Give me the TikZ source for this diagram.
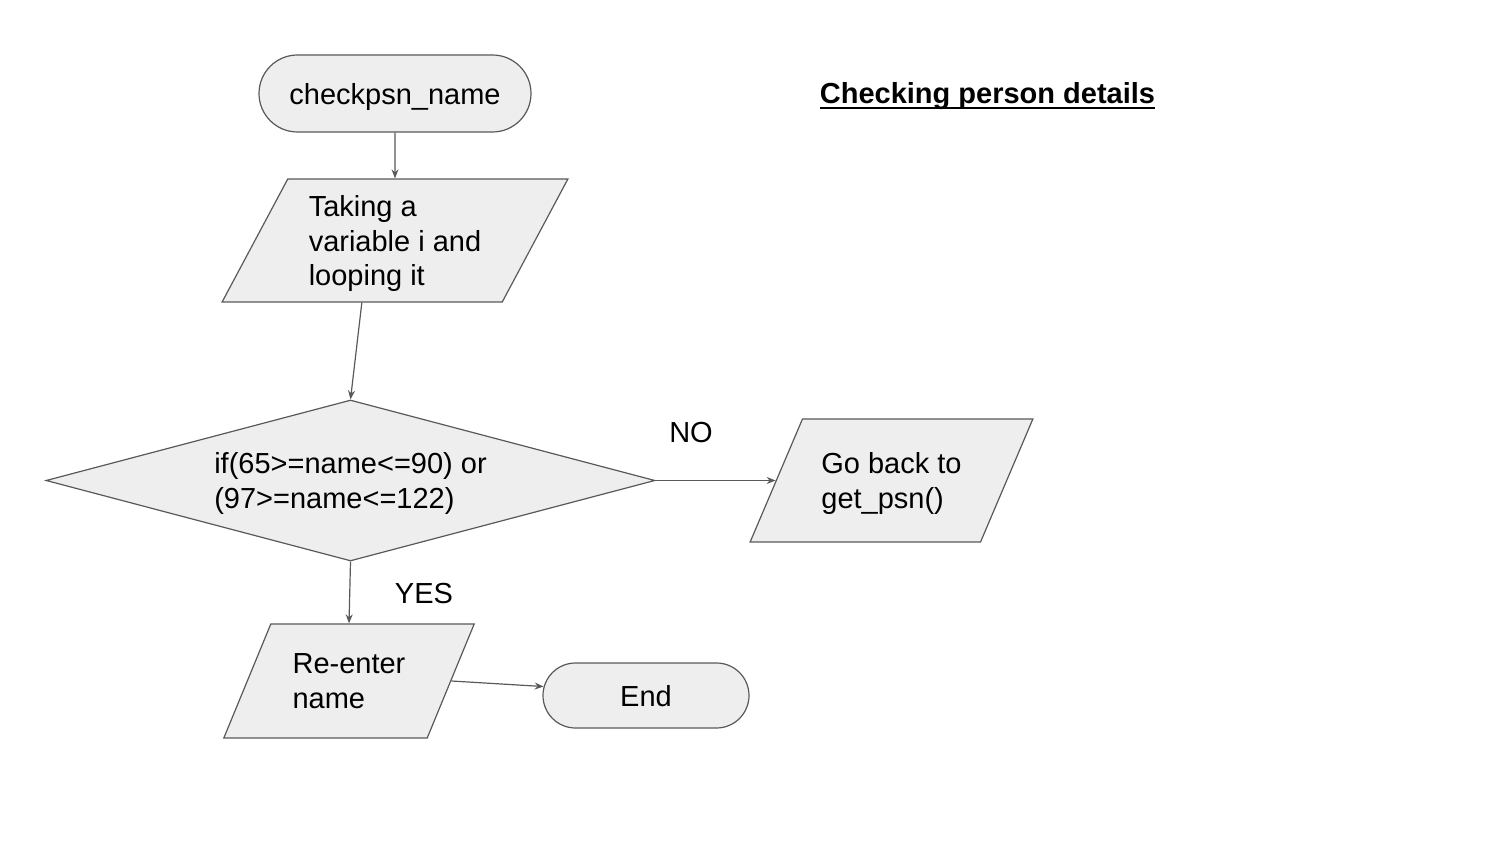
\documentclass[tikz,border=0pt]{standalone}
\usepackage{fontspec}
\setmainfont{Liberation Sans}
\newcommand\titleuline[1]{\setbox0\hbox{#1}\rlap{\rule[-2.5pt]{\wd0}{1pt}}\box0}
\usetikzlibrary{shapes.geometric,shapes.misc,arrows.meta}

\definecolor{boxfill}{HTML}{EEEEEE}
\definecolor{boxline}{HTML}{595959}

\begin{document}
\begin{tikzpicture}[x=1pt,y=-1pt,
  font=\fontsize{14.5}{17.25}\selectfont, text depth=-1pt,
  terminal/.style={rounded rectangle, draw=boxline, fill=boxfill, line width=0.6pt, inner sep=0pt},
  inout/.style={trapezium, trapezium stretches=true, draw=boxline, fill=boxfill, line width=0.6pt, inner sep=0pt, align=left},
  decision/.style={diamond, aspect=3.78, draw=boxline, fill=boxfill, line width=0.6pt, inner sep=0pt, align=left},
  ->/.style={draw=boxline, line width=0.6pt, -{Stealth[length=4.5pt,width=3.5pt]}}]
 \useasboundingbox (0,0) rectangle (750,422);

 \node[terminal, minimum width=136pt, minimum height=38.5pt] (start) at (197.5,46.75) {checkpsn\_name};
 \node[font=\fontsize{14.5}{17.25}\selectfont\bfseries] (title) at (493.75,46.5) {\titleuline{Checking person details}};

 \node[inout, trapezium left angle=59.6, trapezium right angle=120.4, minimum width=173pt, minimum height=61.5pt] (loop) at (197.5,120.25) {Taking a\\variable i and\\looping it};

 \node[decision, minimum width=304.5pt, minimum height=80.5pt] (check) at (175.25,240.25) {if(65>=name<=90) or\\(97>=name<=122)};

 \node[inout, trapezium left angle=53.4, trapezium right angle=126.6, minimum width=141.5pt, minimum height=61.5pt] (goback) at (445.75,240.25) {Go back to\\get\_psn()};

 \node[inout, trapezium left angle=58.1, trapezium right angle=121.9, minimum width=126pt, minimum height=57pt] (reenter) at (174.5,340.5) {Re-enter\\name};

 \node[terminal, minimum width=103pt, minimum height=32.5pt] (end) at (323,347.75) {End};

 \node (no) at (345.5,216) {NO};
 \node (yes) at (212,296.5) {YES};

 \draw [->] (start) -- (loop);
 \draw [->] (loop.bottom side) -- (check.north);
 \draw [->] (check.east) -- (goback.left side);
 \draw [->] (check.south) -- (reenter.north);
 \draw [->] (reenter.right side) -- (end.175);
\end{tikzpicture}
\end{document}
